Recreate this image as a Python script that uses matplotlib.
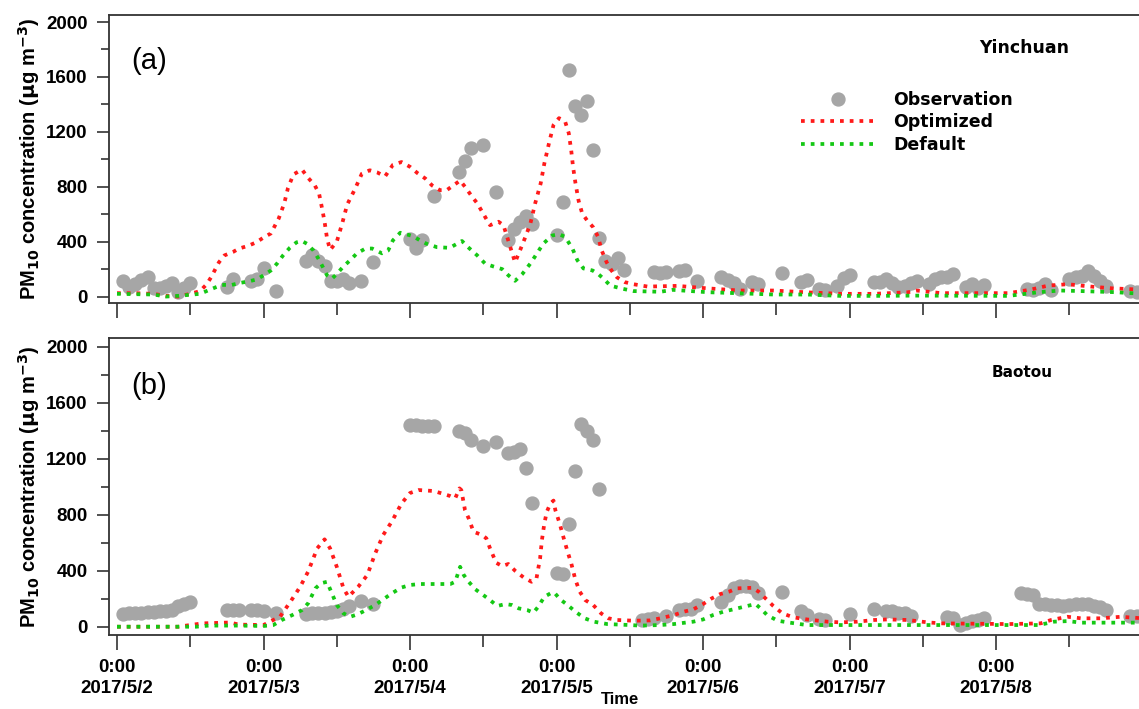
import numpy as np
import matplotlib
matplotlib.use("Agg")
import matplotlib.pyplot as plt
from matplotlib.lines import Line2D

plt.rcParams['font.family'] = ['Liberation Sans', 'DejaVu Sans']

# time axis in hours since 2017/5/2 0:00
day_labels = ['2017/5/2', '2017/5/3', '2017/5/4', '2017/5/5',
              '2017/5/6', '2017/5/7', '2017/5/8']

# ---------------- (a) Yinchuan ----------------
# observations as (hour, value)
obs_a = [(1, 115), (2, 70), (3, 95), (4, 120), (5, 140), (6, 65), (7, 65),
         (8, 75), (9, 100), (10, 30), (11, 60), (12, 100), (18, 70),
         (19, 125), (22, 112), (23, 130), (24, 210), (26, 40), (31, 260),
         (32, 300), (33, 260), (34, 220), (35, 110), (36, 115), (37, 130),
         (38, 100), (40, 110), (42, 255), (48, 420), (49, 355), (50, 410),
         (52, 730), (56, 910), (57, 990), (58, 1080), (60, 1105), (62, 760),
         (64, 410), (65, 495), (66, 545), (67, 590), (68, 530), (72, 445),
         (73, 690), (74, 1650), (75, 1390), (76, 1320), (77, 1425),
         (78, 1065), (79, 425), (80, 260), (81, 235), (82, 280), (83, 190),
         (88, 180), (89, 175), (90, 180), (92, 185), (93, 195), (95, 110),
         (99, 140), (100, 120), (101, 100), (102, 55), (104, 105), (105, 95),
         (109, 170), (112, 105), (113, 120), (115, 55), (116, 50), (118, 80),
         (119, 135), (120, 155), (124, 105), (125, 105), (126, 130),
         (127, 100), (128, 70), (129, 80), (130, 100), (131, 115), (133, 95),
         (134, 130), (135, 140), (136, 145), (137, 165), (139, 70), (140, 90),
         (141, 60), (142, 85), (149, 55), (150, 45), (151, 60), (152, 90),
         (153, 45), (156, 130), (157, 140), (158, 150), (159, 185), (160, 150),
         (161, 110), (162, 80), (166, 40), (167, 30)]

opt_a_h = [0, 3, 6, 8, 10, 12, 13.6, 14.7, 15.4, 16.7, 17.6, 19, 20, 21.5,
           22.8, 24, 25.2, 26.5, 27.4, 28, 28.9, 30.3, 31.3, 32.4, 33.1, 33.6,
           34, 34.4, 34.9, 36, 36.9, 37.7, 39, 40.1, 41.4, 42.6, 43.9, 45.2,
           46.6, 48, 49.2, 50.5, 51.6, 52.9, 54, 55.1, 56.2, 57, 58.2, 59,
           60.3, 61.1, 62.5, 63.3, 63.9, 64.6, 65.2, 66, 66.9, 67.7, 68.5,
           69.4, 70, 70.8, 71.5, 72.4, 73.4, 74, 74.4, 74.7, 75.1, 75.6, 76.2,
           77, 78, 78.8, 79.4, 80.2, 81, 81.9, 83.2, 84.6, 86.9, 89, 91.8,
           96.7, 102, 107.5, 113, 118.5, 124, 129.5, 131, 135, 146, 149.6,
           152.5, 155.7, 159.5, 163, 168]
opt_a_v = [25, 25, 20, 5, 0, 20, 40, 90, 140, 250, 300, 325, 350, 370, 395,
           430, 460, 570, 680, 790, 890, 925, 865, 810, 750, 640, 545, 425,
           340, 400, 535, 670, 785, 895, 920, 905, 875, 960, 980, 945, 900,
           860, 810, 775, 775, 810, 845, 800, 725, 680, 580, 520, 545, 520,
           435, 335, 250, 335, 435, 530, 680, 825, 970, 1125, 1250, 1300,
           1275, 1190, 1065, 945, 825, 700, 605, 555, 505, 435, 335, 250, 190,
           140, 105, 90, 73, 75, 78, 60, 44, 44, 31, 20, 20, 31, 44, 25, 25,
           50, 80, 90, 73, 60, 50]

def_a_h = [0, 6, 8, 10, 13.6, 15.2, 16.3, 17.2, 18.8, 20.2, 21.5, 22.9, 24,
           25.2, 26.2, 27.2, 28.3, 29.4, 30.3, 31.1, 32.2, 33, 33.6, 34.4,
           35.2, 36, 37.1, 38.2, 39.3, 40.7, 41.8, 43.4, 44.4, 45.2, 46.4,
           47.7, 48.5, 49.6, 50.7, 52.4, 54.5, 55.7, 56.5, 57.5, 59, 60.3,
           61.6, 63.1, 64.1, 65.2, 66.4, 67.7, 68.8, 69.8, 71.3, 72.4, 73.4,
           74.6, 75.4, 76.4, 77.9, 78.8, 79.7, 80.8, 82.5, 84.6, 89, 91, 96.7,
           102, 107.5, 113, 118.5, 124, 131, 146, 151, 154.5, 158, 163.5, 168]
def_a_v = [20, 15, 0, 5, 20, 50, 70, 85, 85, 100, 110, 125, 155, 190, 240,
           300, 355, 395, 405, 385, 335, 275, 225, 155, 130, 165, 220, 265,
           315, 350, 350, 315, 335, 410, 465, 450, 440, 410, 385, 360, 355,
           385, 405, 360, 300, 240, 220, 200, 155, 115, 165, 240, 315, 385,
           445, 455, 435, 350, 265, 205, 190, 165, 130, 80, 60, 40, 35, 49,
           32, 24, 15, 15, 5, 5, 7, 5, 32, 44, 40, 32, 20]

# ---------------- (b) Baotou ----------------
obs_b = [(1, 90), (2, 95), (3, 100), (4, 100), (5, 105), (6, 105), (7, 110),
         (8, 115), (9, 120), (10, 150), (11, 160), (12, 175), (18, 120),
         (19, 120), (20, 120), (22, 120), (23, 120), (24, 115), (26, 100),
         (31, 90), (32, 95), (33, 100), (34, 100), (35, 105), (36, 110),
         (37, 125), (38, 145), (40, 185), (42, 160), (48, 1440), (49, 1440),
         (50, 1435), (51, 1435), (52, 1430), (56, 1395), (57, 1380),
         (58, 1330), (60, 1290), (62, 1320), (64, 1240), (65, 1250),
         (66, 1270), (67, 1130), (68, 885), (72, 385), (73, 380), (74, 735),
         (75, 1110), (76, 1445), (77, 1400), (78, 1330), (79, 980), (86, 50),
         (87, 55), (88, 60), (90, 75), (92, 120), (93, 125), (94, 125),
         (95, 155), (99, 180), (100, 230), (101, 275), (102, 290), (103, 290),
         (104, 285), (105, 240), (109, 250), (112, 115), (113, 85), (115, 55),
         (116, 45), (120, 90), (124, 130), (126, 115), (127, 110), (128, 100),
         (129, 95), (130, 75), (136, 70), (137, 60), (138, 10), (139, 30),
         (140, 40), (141, 50), (142, 60), (148, 240), (149, 235), (150, 225),
         (151, 160), (152, 160), (153, 155), (154, 155), (155, 150),
         (156, 155), (157, 160), (158, 165), (159, 160), (160, 150),
         (161, 140), (162, 120), (166, 80), (167, 80)]

opt_b_h = [0, 10, 12, 14, 18.5, 20, 24, 25.6, 26.7, 28.4, 30, 31.3, 32.8, 34,
           34.9, 36, 37.1, 37.9, 39.5, 41, 42.3, 43.6, 45, 46.6, 48, 49.4,
           51.9, 53.2, 54.6, 55.4, 56.1, 56.4, 57, 57.6, 58.4, 59.8, 60.5,
           61.1, 62.1, 63.1, 64.1, 65.2, 66.6, 67.9, 68.7, 69.3, 69.6, 70,
           70.4, 71, 71.5, 71.8, 72.5, 73.1, 73.8, 74.4, 75.1, 75.8, 76.7, 78,
           79.3, 80.5, 81.9, 84.6, 87.3, 89, 91.2, 92.8, 94.4, 96, 97.4, 98.8,
           100.2, 101.6, 104.1, 105.1, 106.4, 107.5, 109, 110.8, 113, 116.4,
           118.5, 121.3, 124, 126.2, 129.5, 132.8, 135, 146, 151.3, 153, 155.7,
           157.9, 161.1, 164.4, 168]
opt_b_v = [0, 0, 12, 24, 30, 15, 12, 48, 72, 178, 285, 393, 560, 624, 560,
           428, 274, 214, 285, 369, 524, 655, 750, 880, 955, 976, 969, 952,
           933, 917, 988, 976, 833, 774, 678, 655, 631, 560, 457, 433, 448,
           400, 352, 321, 343, 488, 619, 738, 821, 881, 901, 833, 738, 643,
           536, 453, 333, 250, 190, 155, 95, 60, 48, 43, 45, 60, 83, 107, 124,
           162, 202, 233, 250, 274, 278, 250, 195, 148, 95, 67, 52, 36, 31, 36,
           48, 52, 48, 31, 24, 19, 24, 48, 71, 60, 60, 71, 60]

def_b_h = [0, 13, 15, 20, 24, 25.6, 27, 28.7, 30.3, 31.3, 32.5, 33.4, 34.4,
           35.2, 36, 37.1, 38.2, 39.5, 41, 42.3, 43.6, 45, 46.6, 48, 49.6,
           54.6, 55.4, 56.2, 56.8, 57.6, 58.7, 60, 61.1, 62.3, 63.6, 64.7,
           65.8, 67.2, 68.2, 69, 70, 71, 71.6, 72.6, 73.8, 75.1, 76.6, 78.1,
           80.3, 84, 85.7, 89, 91.2, 94.4, 96, 97.6, 99.3, 101.6, 103.2, 104.6,
           105.4, 106.5, 108.2, 110.2, 113, 151, 153.5, 155.7, 158, 168]
def_b_v = [0, 0, 8, 8, 5, 12, 48, 83, 119, 167, 274, 310, 321, 238, 155, 95,
           71, 90, 124, 155, 195, 238, 280, 298, 305, 305, 321, 428, 369, 321,
           267, 226, 190, 148, 162, 155, 131, 119, 100, 143, 214, 238, 245,
           195, 155, 107, 60, 36, 19, 12, 8, 12, 19, 36, 52, 83, 107, 131, 148,
           162, 131, 83, 43, 29, 12, 12, 36, 40, 29, 29]

panels = [
    dict(obs=obs_a, opt=(opt_a_h, opt_a_v), dft=(def_a_h, def_a_v),
         tag='(a)', city='Yinchuan', ylim=(-47, 2051)),
    dict(obs=obs_b, opt=(opt_b_h, opt_b_v), dft=(def_b_h, def_b_v),
         tag='(b)', city='Baotou', ylim=(-59, 2062)),
]

obs_color = '#a6a6a6'
opt_color = '#ff1a1a'
def_color = '#14c814'
dots = (0, (1.0, 1.6))

fig = plt.figure(figsize=(11.39, 7.09), dpi=100)
rects = [[0.0957, 0.5726, 0.9043, 0.4062],
         [0.0957, 0.1044, 0.9043, 0.4189]]

for i, (p, r) in enumerate(zip(panels, rects)):
    ax = fig.add_axes(r)
    oh, ov = zip(*p['obs'])
    ax.plot(oh, ov, 'o', color=obs_color, ms=9.3, mec=obs_color, zorder=2)
    ax.plot(p['opt'][0], p['opt'][1], color=opt_color, lw=2.7,
            linestyle=dots, zorder=3)
    ax.plot(p['dft'][0], p['dft'][1], color=def_color, lw=2.7,
            linestyle=dots, zorder=4)

    ax.set_xlim(-1.31, 167.4)
    ax.set_ylim(*p['ylim'])
    ax.set_yticks(np.arange(0, 2001, 400))
    ax.set_yticks(np.arange(200, 2001, 400), minor=True)
    ax.set_xticks(np.arange(0, 168, 24))
    ax.set_xticks(np.arange(12, 168, 24), minor=True)
    ax.tick_params(axis='y', which='major', direction='out', length=8.5,
                   width=1.2, labelsize=13.5, pad=7, color='#333333')
    ax.tick_params(axis='y', which='minor', direction='out', length=5.5,
                   width=1.2, color='#333333')
    ax.tick_params(axis='x', which='major', direction='out', length=10.5,
                   width=1.2, color='#333333', labelsize=13.5, pad=7)
    ax.tick_params(axis='x', which='minor', direction='out', length=8.5,
                   width=1.2, color='#333333')
    for lab in ax.get_yticklabels():
        lab.set_fontweight('bold')
    for side in ['left', 'bottom', 'top']:
        ax.spines[side].set_linewidth(1.3)
        ax.spines[side].set_color('#333333')
    ax.spines['right'].set_visible(False)

    if i == 0:
        ax.set_xticklabels([])
    else:
        ax.set_xticklabels(['0:00\n' + d for d in day_labels],
                           fontweight='bold', linespacing=1.3)

    ax.set_ylabel(r'PM$_{\mathbf{10}}$ concentration ($\mathbf{\mu}$g m$^{\mathbf{-3}}$)',
                  fontsize=14.5, fontweight='bold', labelpad=3)
    ax.text(0.022, 0.84, p['tag'], transform=ax.transAxes, fontsize=21,
            va='center', ha='left')
    ax.text(0.845 if i == 0 else 0.857, 0.885, p['city'], transform=ax.transAxes,
            fontsize=12.5 if i == 0 else 11, fontweight='bold', va='center',
            ha='left', family=['DejaVu Sans'])

    if i == 0:
        handles = [Line2D([], [], marker='o', ls='none', color=obs_color, ms=9.3),
                   Line2D([], [], color=opt_color, lw=2.7, linestyle=dots),
                   Line2D([], [], color=def_color, lw=2.7, linestyle=dots)]
        ax.legend(handles, ['Observation', 'Optimized', 'Default'],
                  loc='upper left', bbox_to_anchor=(0.665, 0.76),
                  frameon=False, handlelength=4.3, handletextpad=1.0,
                  labelspacing=0.25, borderaxespad=0,
                  prop=dict(family='DejaVu Sans', weight='bold', size=12.5))

fig.text(620 / 1139, 1 - 700 / 709, 'Time', ha='center', va='center',
         fontsize=12, fontweight='bold')

fig.savefig('out.png', dpi=100)
